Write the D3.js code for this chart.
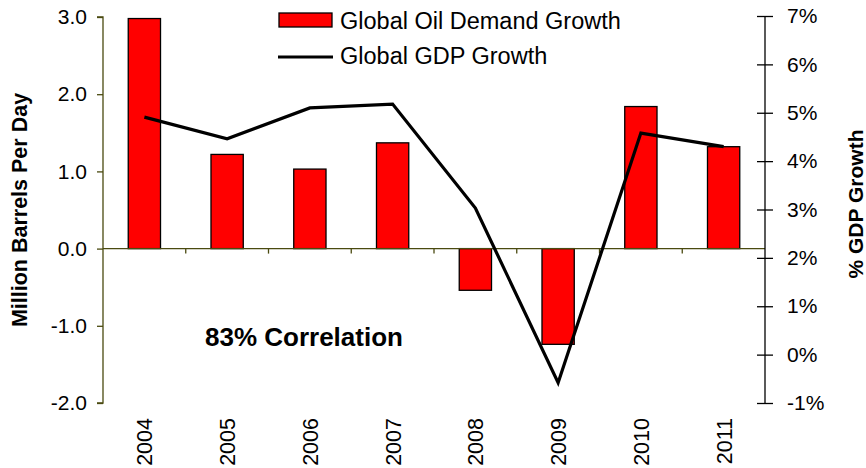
<!DOCTYPE html>
<html>
<head>
<meta charset="utf-8">
<script src="https://cdn.jsdelivr.net/npm/d3@7"></script>
<style>
  body { margin: 0; background: #fff; }
  svg text { font-family: "Liberation Sans", Arial, sans-serif; }
</style>
</head>
<body>
<div id="chart"></div>
<script>
'use strict';

// data
let years = ['2004', '2005', '2006', '2007', '2008', '2009', '2010', '2011'];
let oilDemand = [2.98, 1.22, 1.03, 1.37, -0.54, -1.24, 1.84, 1.32];
let gdpGrowth = [4.91, 4.46, 5.10, 5.18, 3.03, -0.58, 4.58, 4.30];
let leftTicks = [3, 2, 1, 0, -1, -2];
let rightTicks = [7, 6, 5, 4, 3, 2, 1, 0, -1];

let width = 866, height = 468;
let plotLeft = 103, plotRight = 765, plotTop = 17, plotBottom = 403;
let axisColor = '#4a4a10';

let svg = d3.select('#chart').append('svg')
    .attr('width', width)
    .attr('height', height);

// scales
let x = d3.scaleBand().domain(years).range([plotLeft, plotRight]);
let y = d3.scaleLinear().domain([-2, 3]).range([plotBottom, plotTop]);
let y2 = d3.scaleLinear().domain([-1, 7]).range([403, 16]);

// plain hyphen for negatives like the original
let fmt1 = d => d3.format('.1f')(d).replace('\u2212', '-');

// bars
let barW = x.bandwidth() * 0.39;
svg.selectAll('rect.bar')
    .data(oilDemand)
    .enter().append('rect')
    .attr('class', 'bar')
    .attr('x', (d, i) => x(years[i]) + x.bandwidth() / 2 - barW / 2)
    .attr('y', d => y(Math.max(0, d)))
    .attr('width', barW)
    .attr('height', d => Math.abs(y(d) - y(0)))
    .style('fill', '#ff0000')
    .style('stroke', '#000')
    .style('stroke-width', 1.3);

// x axis at zero
let gX = svg.append('g').attr('transform', 'translate(0,' + y(0) + ')');
gX.append('line')
    .attr('x1', plotLeft).attr('x2', plotRight)
    .style('stroke', axisColor).style('stroke-width', 1.3);
gX.selectAll('line.tick')
    .data(years.slice(1))
    .enter().append('line')
    .attr('class', 'tick')
    .attr('x1', d => x(d)).attr('x2', d => x(d))
    .attr('y1', 0).attr('y2', 5)
    .style('stroke', axisColor).style('stroke-width', 1.3);

// left axis
let yAxis = d3.axisLeft(y).tickValues(leftTicks).tickSize(6).tickPadding(10)
    .tickFormat(fmt1);
let gY = svg.append('g').attr('transform', 'translate(' + plotLeft + ',0)').call(yAxis);
gY.select('.domain').style('stroke', axisColor).style('stroke-width', 1.3)
    .attr('d', 'M-6,' + y(3) + 'H0V' + y(-2) + 'H-6');
gY.selectAll('.tick line').style('stroke', axisColor).style('stroke-width', 1.3);
gY.selectAll('.tick text').style('font-size', '21px').style('fill', '#000')
    .attr('font-family', null);

// right axis, ticks cross the line
let y2Axis = d3.axisRight(y2).tickValues(rightTicks).tickSize(8).tickPadding(14)
    .tickFormat(d => d + '%');
let gY2 = svg.append('g').attr('transform', 'translate(' + plotRight + ',0)').call(y2Axis);
gY2.select('.domain').style('stroke', '#000').style('stroke-width', 1.3)
    .attr('d', 'M0,' + y2(7) + 'V' + y2(-1));
gY2.selectAll('.tick line').attr('x1', -8).style('stroke', '#000').style('stroke-width', 1.3);
gY2.selectAll('.tick text').style('font-size', '21px').style('fill', '#000');
svg.selectAll('.tick text').style('font-family', '"Liberation Sans", Arial, sans-serif');

// gdp line
let line = d3.line()
    .x((d, i) => x(years[i]) + x.bandwidth() / 2)
    .y(d => y2(d));
svg.append('path')
    .datum(gdpGrowth)
    .attr('d', line)
    .style('fill', 'none')
    .style('stroke', '#000')
    .style('stroke-width', 3.2)
    .style('stroke-linejoin', 'miter');

// year labels, rotated
svg.selectAll('text.year')
    .data(years)
    .enter().append('text')
    .attr('class', 'year')
    .attr('transform', d => 'translate(' + (x(d) + x.bandwidth() / 2 + 8) + ',418) rotate(-90)')
    .attr('text-anchor', 'end')
    .style('font-size', '21.5px')
    .text(d => d);

// axis titles
svg.append('text')
    .attr('transform', 'translate(27,210) rotate(-90)')
    .attr('text-anchor', 'middle')
    .style('font-size', '21.5px').style('font-weight', 'bold')
    .text('Million Barrels Per Day');
svg.append('text')
    .attr('transform', 'translate(863,204) rotate(-90)')
    .attr('text-anchor', 'middle')
    .style('font-size', '21px').style('font-weight', 'bold')
    .text('% GDP Growth');

// annotation
svg.append('text')
    .attr('x', 205).attr('y', 346)
    .style('font-size', '26px').style('font-weight', 'bold')
    .text('83% Correlation');

// legend
let lg = svg.append('g');
lg.append('rect')
    .attr('x', 279).attr('y', 13).attr('width', 53).attr('height', 14)
    .style('fill', '#ff0000').style('stroke', '#000').style('stroke-width', 1.3);
lg.append('text').attr('x', 340).attr('y', 29).style('font-size', '23.5px')
    .text('Global Oil Demand Growth');
lg.append('line')
    .attr('x1', 278).attr('x2', 333).attr('y1', 57).attr('y2', 57)
    .style('stroke', '#000').style('stroke-width', 3.2);
lg.append('text').attr('x', 340).attr('y', 64).style('font-size', '23.5px')
    .text('Global GDP Growth');
</script>
</body>
</html>
